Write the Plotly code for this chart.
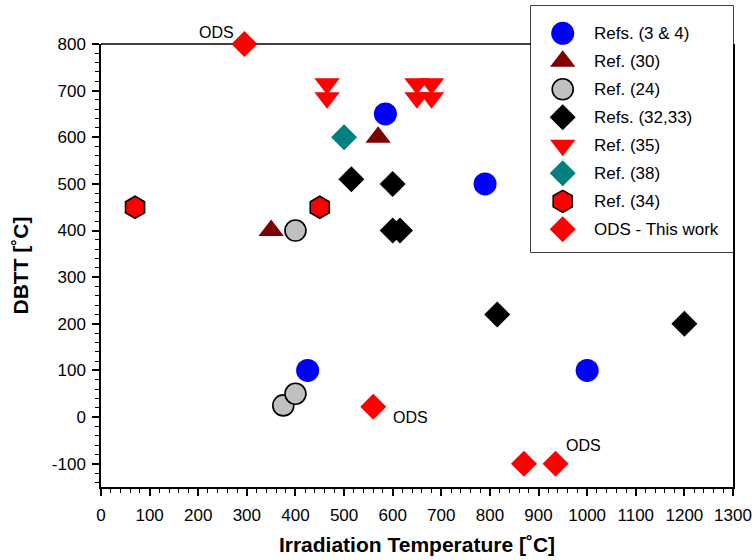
import plotly.graph_objects as go

# ---------------- data ----------------
refs34_x = [425, 585, 790, 1000]
refs34_y = [100, 650, 500, 100]

ref30_x = [350, 570]
ref30_y = [400, 600]

ref24_x = [375, 400, 400]
ref24_y = [25, 50, 400]

refs3233_x = [515, 600, 600, 615, 815, 1200]
refs3233_y = [510, 500, 400, 400, 220, 200]

ref35_x = [465, 465, 650, 680, 650, 680]
ref35_y = [715, 685, 715, 715, 685, 685]

ref38_x = [500]
ref38_y = [600]

ref34h_x = [70, 450]
ref34h_y = [450, 450]

ods_x = [295, 560, 870, 935]
ods_y = [800, 22, -100, -100]

series_names = ["Refs. (3 & 4)", "Ref. (30)", "Ref. (24)", "Refs. (32,33)",
                "Ref. (35)", "Ref. (38)", "Ref. (34)", "ODS - This work"]

x_ticks = list(range(0, 1301, 100))
x_ticktext = [str(v) for v in x_ticks]
y_ticks = list(range(-100, 801, 100))
y_ticktext = [str(v) for v in y_ticks]

# ods labels: (index of ODS point, x shift px, y shift px)
ods_labels = [(0, -28, 12), (1, 37, -11), (3, 28, 18)]

# ---------------- styles ----------------
FONT = "Liberation Sans, Arial, Helvetica, sans-serif"
styles = [
    dict(symbol="circle", size=23, color="#0000FF", line=dict(width=0)),
    dict(symbol="triangle-up", size=22, color="#7F0000", line=dict(width=0)),
    dict(symbol="circle", size=21, color="#C0C0C0", line=dict(width=1.6, color="black")),
    dict(symbol="diamond", size=20, color="black", line=dict(width=0)),
    dict(symbol="triangle-down", size=22, color="#FF0000", line=dict(width=0)),
    dict(symbol="diamond", size=20, color="#008080", line=dict(width=0)),
    dict(symbol="hexagon", size=22, color="#FF0000", line=dict(width=1.6, color="black")),
    dict(symbol="diamond", size=20, color="#FF0000", line=dict(width=0)),
]
series = [
    (refs34_x, refs34_y), (ref30_x, ref30_y), (ref24_x, ref24_y),
    (refs3233_x, refs3233_y), (ref35_x, ref35_y), (ref38_x, ref38_y),
    (ref34h_x, ref34h_y), (ods_x, ods_y),
]

fig = go.Figure()
for name, (xs, ys), st in zip(series_names, series, styles):
    fig.add_trace(go.Scatter(x=xs, y=ys, mode="markers", name=name, marker=st,
                             showlegend=False, cliponaxis=False,
                             xaxis="x", yaxis="y"))

# legend drawn on an auxiliary axis pair
for i, (name, st) in enumerate(zip(series_names, styles)):
    fig.add_trace(go.Scatter(x=[0.157], y=[i], mode="markers", marker=st,
                             showlegend=False, cliponaxis=False,
                             xaxis="x2", yaxis="y2", hoverinfo="skip"))

annotations = []
for i, name in enumerate(series_names):
    annotations.append(dict(x=0.30, y=i, xref="x2", yref="y2", text=name,
                            showarrow=False, xanchor="left", yanchor="middle",
                            font=dict(family=FONT, size=17, color="black")))
for idx, dx, dy in ods_labels:
    annotations.append(dict(x=ods_x[idx], y=ods_y[idx], xref="x", yref="y",
                            text="ODS", showarrow=False, xshift=dx, yshift=dy,
                            font=dict(family=FONT, size=16, color="black")))

YDOM = 443 / 481
LEG_X0 = (531 - 101) / 632
LEG_Y0 = (487 - 252) / 481

tickfont = dict(family=FONT, size=17, color="black")
fig.update_layout(
    template="none",
    width=756, height=560,
    margin=dict(l=101, r=23, t=6, b=73, autoexpand=False),
    paper_bgcolor="white", plot_bgcolor="white",
    font=dict(family=FONT, color="black"),
    showlegend=False,
    xaxis=dict(range=[0, 1300], tickvals=x_ticks, ticktext=x_ticktext,
               ticks="outside", ticklen=7, automargin=False,
               tickwidth=1.5, tickcolor="black", showline=True, linewidth=1.5,
               linecolor="black", mirror=False, showgrid=False, zeroline=False,
               tickfont=tickfont, ticklabelstandoff=5,
               minor=dict(dtick=20, tick0=0, ticks="outside", ticklen=4,
                          tickwidth=1.2, tickcolor="black", showgrid=False),
               title=dict(text="<b>Irradiation Temperature [˚C]</b>",
                          font=dict(family=FONT, size=21, color="black"),
                          standoff=13)),
    yaxis=dict(range=[-150, 800], domain=[0, YDOM], tickvals=y_ticks,
               ticktext=y_ticktext, automargin=False,
               ticks="outside", ticklen=7, tickwidth=1.5, tickcolor="black",
               showline=True, linewidth=1.5, linecolor="black", mirror=True,
               showgrid=False, zeroline=False, tickfont=tickfont,
               ticklabelstandoff=3,
               minor=dict(dtick=20, tick0=0, ticks="outside", ticklen=4,
                          tickwidth=1.2, tickcolor="black", showgrid=False),
               title=dict(text="<b>DBTT [˚C]</b>",
                          font=dict(family=FONT, size=21, color="black"),
                          standoff=17)),
    xaxis2=dict(domain=[LEG_X0, 1.0], range=[0, 1], visible=False,
                anchor="y2", fixedrange=True, automargin=False),
    yaxis2=dict(domain=[LEG_Y0, 1.0], range=[7.81, -0.975], visible=False,
                anchor="x2", fixedrange=True, automargin=False),
    shapes=[
        dict(type="rect", xref="paper", yref="paper", x0=LEG_X0, x1=1.0,
             y0=LEG_Y0, y1=1.0, fillcolor="white",
             line=dict(color="black", width=1.5), layer="below"),
        dict(type="line", xref="paper", yref="paper", x0=0, x1=LEG_X0,
             y0=YDOM, y1=YDOM, line=dict(color="black", width=1.5),
             layer="below"),
    ],
    annotations=annotations,
)

fig.write_html("out.html")
